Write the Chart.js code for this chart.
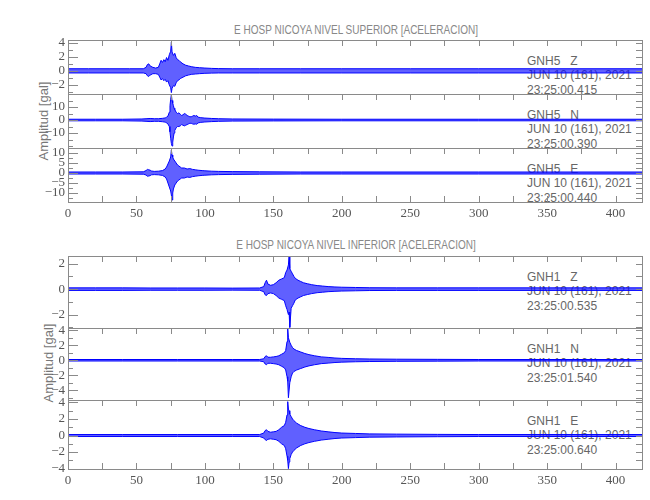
<!DOCTYPE html>
<html>
<head>
<meta charset="utf-8">
<script src="https://cdn.jsdelivr.net/npm/chart.js@4.4.1/dist/chart.umd.min.js"></script>
<style>
  body { margin: 0; background: #fff; }
  #wrap { position: relative; width: 650px; height: 500px; overflow: hidden; }
  #wrap canvas { position: absolute; left: 0; z-index: 2; }
  .txt { position: absolute; font-family: "Liberation Sans Narrow", sans-serif; color: #666; white-space: pre; z-index: 1; line-height: 1; }
  .ttl { font-size: 13px; color: #888; }
  .ylab { font-size: 13px; color: #777; transform: translate(-50%, -50%) rotate(-90deg); }
  .ann { font-size: 12px; left: 527px; }
</style>
</head>
<body>
<div id="wrap"></div>
<script>
// x axis (seconds)
const xTicks = [0, 50, 100, 150, 200, 250, 300, 350, 400];

// GNH5 Z
const z5t  = [0,15,30,45,55,57,58,59,60,62,64,66,67,68,69,70,71,72,73,74,75,75.5,76,77,78,79,80,81,82,84,86,88,90,93,96,100,105,110,120,140,170,200,250,300,350,420];
const z5hi = [0.3,0.3,0.3,0.3,0.3,0.5,0.9,1.0,0.7,0.5,0.4,0.5,1.0,1.5,1.2,1.6,1.3,1.9,1.5,2.3,2.8,4.1,2.7,2.2,2.5,1.9,1.6,1.5,1.3,1.0,0.8,0.7,0.6,0.5,0.45,0.4,0.35,0.32,0.3,0.3,0.3,0.3,0.3,0.3,0.3,0.3];
const z5lo = [-0.3,-0.3,-0.3,-0.3,-0.3,-0.4,-0.7,-0.8,-0.6,-0.4,-0.4,-0.5,-0.9,-1.3,-1.1,-1.4,-1.2,-1.6,-1.4,-2.0,-2.4,-3.1,-2.5,-2.1,-2.2,-1.7,-1.4,-1.3,-1.1,-0.9,-0.7,-0.6,-0.5,-0.45,-0.4,-0.35,-0.32,-0.3,-0.3,-0.3,-0.3,-0.3,-0.3,-0.3,-0.3,-0.3];

// GNH5 N
const n5t  = [0,20,40,54,57,60,63,66,69,71,72,73,74,74.5,75,75.5,76,76.5,77,77.5,78,79,80,81,82,83,84,85,86,87,88,89,90,91,92,93,94,95,97,100,105,110,120,150,200,300,420];
const n5hi = [0.6,0.6,0.6,0.8,1.0,1.2,1.0,1.0,1.3,1.6,2.2,3.0,6,11,16,19.5,15,13,11,9,8,6,5,5.5,4.5,3.5,4,5,4.5,3.5,3,2.5,2.5,3,3.5,3,3.5,2.2,1.8,1.5,1.2,1.0,0.8,0.7,0.6,0.6,0.6];
const n5lo = [-0.6,-0.6,-0.6,-0.8,-1.0,-1.2,-1.0,-1.0,-1.3,-1.6,-2.2,-3.0,-5,-9,-14,-18,-20,-17,-13,-10,-8,-6,-5,-5,-4.5,-3.5,-4,-4.5,-4,-3.5,-3,-2.5,-2.5,-3,-3.2,-3,-3.2,-2.2,-1.8,-1.5,-1.2,-1.0,-0.8,-0.7,-0.6,-0.6,-0.6];

// GNH5 E
const e5t  = [0,20,40,55,57,58,59,60,61,63,66,69,71,72,73,74,75,75.5,76,76.5,77,78,79,80,81,82,83,85,87,89,91,93,95,98,100,105,110,120,140,170,200,300,420];
const e5hi = [0.5,0.5,0.5,0.6,1.2,1.8,1.6,1.4,1.0,0.8,0.9,1.2,2.0,3.0,4.5,6,8,11.5,9,8,7,6,5,4,3.5,3,2.5,2.5,2.0,2.2,1.8,1.6,1.4,1.2,1.1,0.9,0.8,0.7,0.6,0.5,0.5,0.5,0.5];
const e5lo = [-0.5,-0.5,-0.5,-0.6,-1.0,-1.6,-1.5,-1.3,-0.9,-0.8,-0.9,-1.2,-2.0,-3.0,-5,-7,-9,-11,-13.5,-10,-8,-6,-5,-4,-3.5,-3,-2.5,-2.5,-2.0,-2.2,-1.8,-1.6,-1.4,-1.2,-1.1,-0.9,-0.8,-0.7,-0.6,-0.5,-0.5,-0.5,-0.5];

// GNH1 Z
const z1t  = [0,20,40,60,80,100,120,140,143,144,145,146,148,150,152,154,156,158,159,160,161,161.5,162,163,164,165,166,168,170,172,175,178,182,186,190,195,200,210,220,240,270,300,350,420];
const z1hi = [0.1,0.1,0.1,0.09,0.09,0.09,0.08,0.09,0.2,0.5,0.7,0.4,0.3,0.35,0.5,0.7,0.8,0.9,1.3,1.5,1.9,2.6,1.6,1.4,1.2,1.0,0.85,0.7,0.6,0.5,0.42,0.35,0.28,0.24,0.2,0.17,0.15,0.13,0.11,0.1,0.1,0.1,0.1,0.1];
const z1lo = [-0.1,-0.1,-0.1,-0.09,-0.09,-0.09,-0.08,-0.09,-0.2,-0.45,-0.5,-0.35,-0.3,-0.35,-0.5,-0.7,-0.8,-0.9,-1.3,-1.6,-2.0,-1.8,-3.0,-1.5,-1.3,-1.1,-0.85,-0.7,-0.6,-0.5,-0.42,-0.35,-0.28,-0.24,-0.2,-0.17,-0.15,-0.13,-0.11,-0.1,-0.1,-0.1,-0.1,-0.1];

// GNH1 N
const n1t  = [0,40,80,120,140,143,144,145,146,148,150,152,154,156,158,159,160,160.5,161,162,163,164,165,167,170,173,176,180,185,190,195,200,210,220,240,270,300,420];
const n1hi = [0.1,0.1,0.1,0.1,0.1,0.2,0.5,0.6,0.4,0.4,0.45,0.5,0.6,0.8,1.0,1.3,2.5,4.2,3.0,2.4,2.0,1.7,1.5,1.3,1.1,0.9,0.75,0.6,0.45,0.38,0.3,0.25,0.2,0.17,0.14,0.12,0.1,0.1];
const n1lo = [-0.1,-0.1,-0.1,-0.1,-0.1,-0.2,-0.5,-0.6,-0.4,-0.4,-0.45,-0.5,-0.6,-0.8,-1.0,-1.3,-2.2,-2.8,-5.0,-3.0,-2.2,-1.7,-1.5,-1.3,-1.1,-0.9,-0.75,-0.6,-0.45,-0.38,-0.3,-0.25,-0.2,-0.17,-0.14,-0.12,-0.1,-0.1];

// GNH1 E
const e1t  = [0,40,80,120,140,143,144,145,146,148,150,152,154,156,158,159,160,160.5,161,161.5,162,163,164,165,167,170,173,176,180,185,190,195,200,210,220,240,270,300,420];
const e1hi = [0.12,0.12,0.12,0.12,0.12,0.3,0.6,0.7,0.5,0.4,0.45,0.5,0.7,1.0,1.2,1.6,2.5,4.1,3.2,3.0,2.6,2.3,2.0,1.8,1.5,1.2,1.0,0.85,0.7,0.55,0.45,0.36,0.3,0.25,0.2,0.17,0.14,0.12,0.12];
const e1lo = [-0.12,-0.12,-0.12,-0.12,-0.12,-0.3,-0.5,-0.6,-0.45,-0.4,-0.45,-0.5,-0.7,-1.0,-1.2,-1.6,-2.5,-3.0,-4.0,-3.2,-2.8,-2.3,-2.0,-1.8,-1.5,-1.2,-1.0,-0.85,-0.7,-0.55,-0.45,-0.36,-0.3,-0.25,-0.2,-0.17,-0.14,-0.12,-0.12];

const dateText = 'JUN 10 (161), 2021';

const panels = [
  { top: 40,  h: 54, t: z5t, hi: z5hi, lo: z5lo, min: -3.3,  max: 4.4,  major: [4,2,0,-2],      minor: [-3,-2,-1,0,1,2,3,4], code: 'GNH5   Z', time: '23:25:00.415' },
  { top: 94,  h: 54, t: n5t, hi: n5hi, lo: n5lo, min: -21.5, max: 20,   major: [10,0,-10],      minor: [-20,-15,-10,-5,0,5,10,15,20], code: 'GNH5   N', time: '23:25:00.390' },
  { top: 148, h: 54, t: e5t, hi: e5hi, lo: e5lo, min: -14.5, max: 12.5, major: [10,5,0,-5,-10], minor: [-12.5,-10,-7.5,-5,-2.5,0,2.5,5,7.5,10], code: 'GNH5   E', time: '23:25:00.440', xAxis: true },
  { top: 256, h: 72, t: z1t, hi: z1hi, lo: z1lo, min: -3.05, max: 2.6,  major: [2,0,-2],        minor: [-3,-2,-1,0,1,2], code: 'GNH1   Z', time: '23:25:00.535' },
  { top: 328, h: 72, t: n1t, hi: n1hi, lo: n1lo, min: -5.3,  max: 4.3,  major: [4,2,0,-2,-4],   minor: [-5,-4,-3,-2,-1,0,1,2,3,4], code: 'GNH1   N', time: '23:25:01.540' },
  { top: 400, h: 69, t: e1t, hi: e1hi, lo: e1lo, min: -4.05, max: 4.3,  major: [4,2,0,-2,-4],   minor: [-4,-3,-2,-1,0,1,2,3,4], code: 'GNH1   E', time: '23:25:00.640', xAxis: true }
];

const PAD = 12, XH = 24, LEFT = 68, RIGHT_PAD = 7;
const GRAY = '#8a8a8a';
const tickFont = { family: 'Liberation Sans Narrow', size: 13 };

const framePlugin = {
  id: 'frame',
  afterDraw(chart) {
    const { ctx, chartArea: a, scales: { x, y } } = chart;
    const p = chart.options.plugins.frame;
    ctx.save();
    ctx.strokeStyle = GRAY;
    ctx.lineWidth = 1;
    ctx.strokeRect(Math.round(a.left) + 0.5, Math.round(a.top) + 0.5,
      Math.round(a.right - a.left) - 1, Math.round(a.bottom - a.top));
    ctx.beginPath();
    p.minor.forEach(v => {
      const py = Math.round(y.getPixelForValue(v)) + 0.5;
      const len = p.major.includes(v) ? 10 : 5;
      ctx.moveTo(a.left, py); ctx.lineTo(a.left + len, py);
      ctx.moveTo(a.right, py); ctx.lineTo(a.right - 7, py);
    });
    for (let s = 25; s <= 400; s += 25) {
      const px = Math.round(x.getPixelForValue(s)) + 0.5;
      ctx.moveTo(px, a.top); ctx.lineTo(px, a.top + 6);
      if (p.xAxis) { ctx.moveTo(px, a.bottom); ctx.lineTo(px, a.bottom - 6); }
    }
    ctx.stroke();
    ctx.restore();
  }
};

const wrap = document.getElementById('wrap');

function addText(cls, text, left, top, extra) {
  const d = document.createElement('div');
  d.className = 'txt ' + cls;
  d.textContent = text;
  if (left !== null) d.style.left = left + 'px';
  d.style.top = top + 'px';
  if (extra) Object.assign(d.style, extra);
  wrap.appendChild(d);
  return d;
}

panels.forEach(p => {
  const cv = document.createElement('canvas');
  const H = PAD + p.h + (p.xAxis ? XH : PAD);
  cv.width = 650; cv.height = H;
  cv.style.top = (p.top - PAD) + 'px';
  wrap.appendChild(cv);

  new Chart(cv, {
    type: 'line',
    data: {
      datasets: [
        { data: p.t.map((t, i) => ({ x: t, y: p.hi[i] })), borderColor: '#0000ff', backgroundColor: 'rgba(10,10,255,0.65)', fill: '+1' },
        { data: p.t.map((t, i) => ({ x: t, y: p.lo[i] })), borderColor: '#0000ff', fill: false }
      ]
    },
    options: {
      responsive: false,
      animation: false,
      devicePixelRatio: 1,
      layout: { padding: { top: PAD, bottom: p.xAxis ? 0 : PAD, left: 0, right: RIGHT_PAD } },
      elements: { point: { radius: 0 }, line: { tension: 0, borderWidth: 1 } },
      plugins: {
        legend: { display: false },
        tooltip: { enabled: false },
        frame: { major: p.major, minor: p.minor, xAxis: !!p.xAxis }
      },
      scales: {
        x: {
          type: 'linear', min: 0, max: 420,
          afterBuildTicks: s => { s.ticks = xTicks.map(v => ({ value: v })); },
          afterFit: s => { s.height = p.xAxis ? XH : 0; },
          grid: { display: false, drawTicks: false },
          border: { display: false },
          ticks: { display: !!p.xAxis, maxRotation: 0, autoSkip: false, padding: 4, font: tickFont, color: '#555' }
        },
        y: {
          min: p.min, max: p.max,
          afterBuildTicks: s => { s.ticks = p.major.map(v => ({ value: v })); },
          afterFit: s => { s.width = LEFT; },
          grid: { display: false, drawTicks: false },
          border: { display: false },
          ticks: { autoSkip: false, padding: 3, font: tickFont, color: '#555', callback: v => v < 0 ? '\u2212' + (-v) : String(v) }
        }
      }
    },
    plugins: [framePlugin]
  });

  addText('ann', p.code, null, p.top + 15);
  addText('ann', dateText, null, p.top + 29);
  addText('ann', p.time, null, p.top + 44);
});

addText('ttl', 'E HOSP NICOYA NIVEL SUPERIOR [ACELERACION]', 356, 23, { transform: 'translateX(-50%) scaleX(0.77)' });
addText('ttl', 'E HOSP NICOYA NIVEL INFERIOR [ACELERACION]', 356, 238, { transform: 'translateX(-50%) scaleX(0.77)' });
addText('ylab', 'Amplitud [gal]', 43, 121);
addText('ylab', 'Amplitud [gal]', 48, 363);
</script>
</body>
</html>
